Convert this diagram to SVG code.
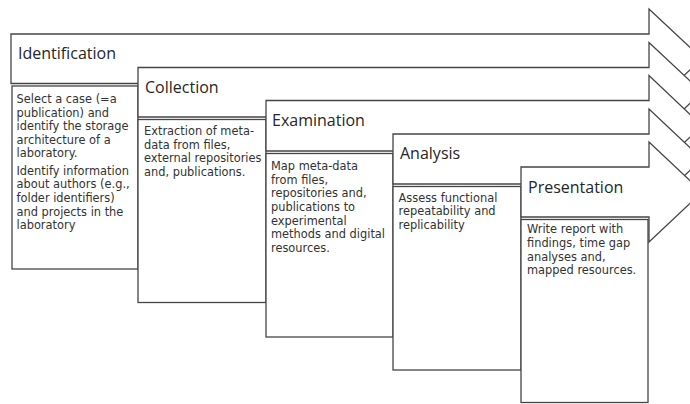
<svg xmlns="http://www.w3.org/2000/svg" width="690" height="404" viewBox="0 0 690 404">
<style>
.arrow{fill:#fff;stroke:#454545;stroke-width:1.3;stroke-linejoin:miter}
.body{fill:#fff;stroke:#454545;stroke-width:1.3}
.title{font-family:"Open Sans","Noto Sans",sans-serif;font-size:16px;fill:#262626}
.txt{font-family:"DejaVu Sans",sans-serif;font-size:11.4px;fill:#333}
</style>
<rect width="690" height="404" fill="#fff"/>
<g id="connectors"></g>
<g id="identification">
<polygon class="arrow" points="11,34 649,34 649,9 702,58.7 649,108.5 649,83.5 11,83.5"/>
<rect class="body" x="12" y="86" width="126" height="183"/>
<text class="title" x="18" y="59">Identification</text>
<text class="txt"><tspan x="16.5" y="103">Select a case (=a</tspan><tspan x="16.5" y="116.6">publication) and</tspan><tspan x="16.5" y="130.2">identify the storage</tspan><tspan x="16.5" y="143.8">architecture of a</tspan><tspan x="16.5" y="157.4">laboratory.</tspan><tspan x="16.5" y="174.8">Identify information</tspan><tspan x="16.5" y="188.4">about authors (e.g.,</tspan><tspan x="16.5" y="202">folder identifiers)</tspan><tspan x="16.5" y="215.6">and projects in the</tspan><tspan x="16.5" y="229.2">laboratory</tspan></text>
</g>
<g id="collection">
<polygon class="arrow" points="138,67.5 649,67.5 649,42.5 702,92.2 649,142 649,117 138,117"/>
<rect class="body" x="138" y="119.5" width="128" height="183"/>
<text class="title" x="145" y="92.5">Collection</text>
<text class="txt"><tspan x="144" y="135">Extraction of meta-</tspan><tspan x="144" y="148.7">data from files,</tspan><tspan x="144" y="162.4">external repositories</tspan><tspan x="144" y="176.1">and, publications.</tspan></text>
</g>
<g id="examination">
<polygon class="arrow" points="266,100.5 649,100.5 649,75.5 702,125.7 649,176 649,151 266,151"/>
<rect class="body" x="266" y="153.5" width="127" height="183.5"/>
<text class="title" x="272" y="126">Examination</text>
<text class="txt"><tspan x="271" y="170">Map meta-data</tspan><tspan x="271" y="183.6">from files,</tspan><tspan x="271" y="197.3">repositories and,</tspan><tspan x="271" y="211">publications to</tspan><tspan x="271" y="224.6">experimental</tspan><tspan x="271" y="238.3">methods and digital</tspan><tspan x="271" y="252">resources.</tspan></text>
</g>
<g id="analysis">
<polygon class="arrow" points="393,134 649,134 649,109 702,159 649,209 649,184 393,184"/>
<rect class="body" x="393" y="186.5" width="128" height="183.5"/>
<text class="title" x="400" y="159">Analysis</text>
<text class="txt"><tspan x="398.5" y="201.7">Assess functional</tspan><tspan x="398.5" y="215.2">repeatability and</tspan><tspan x="398.5" y="228.7">replicability</tspan></text>
</g>
<g id="presentation">
<polygon class="arrow" points="521,167 649,167 649,142 702,192 649,242 649,217 521,217"/>
<rect class="body" x="521" y="219.5" width="127" height="183"/>
<text class="title" x="528" y="193">Presentation</text>
<text class="txt"><tspan x="527" y="233.3">Write report with</tspan><tspan x="527" y="247">findings, time gap</tspan><tspan x="527" y="260.6">analyses and,</tspan><tspan x="527" y="274.2">mapped resources.</tspan></text>
</g>
</svg>
